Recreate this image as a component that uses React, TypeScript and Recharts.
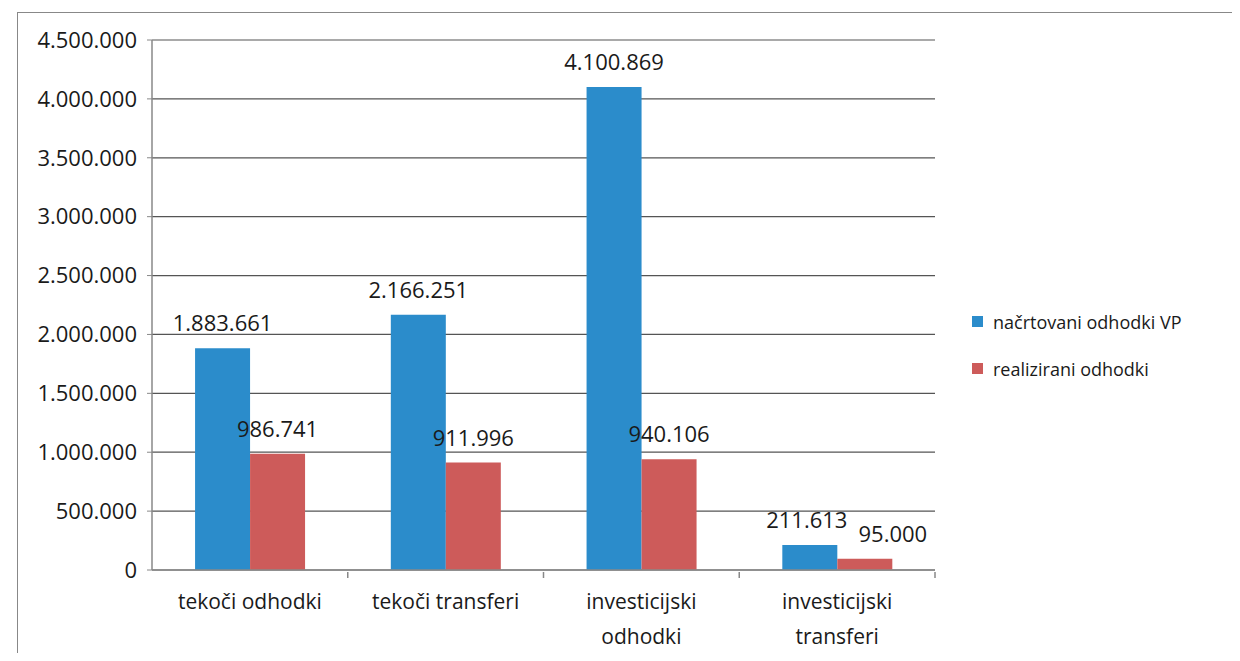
import { BarChart, Bar, XAxis, YAxis, CartesianGrid, LabelList } from "recharts";

const categories = ["tekoči odhodki", "tekoči transferi", "investicijski odhodki", "investicijski transferi"];
const planned = [1883661, 2166251, 4100869, 211613];
const realized = [986741, 911996, 940106, 95000];
const yTicks = [0, 500000, 1000000, 1500000, 2000000, 2500000, 3000000, 3500000, 4000000, 4500000];

const BLUE = "#2b8ccb";
const RED = "#cd5b5a";
const FONT = "'Open Sans', 'Noto Sans', sans-serif";
const TEXT = "#1a1a1a";

const CHART_W = 1224;
const PLOT_LEFT = 144;
const PLOT_RIGHT = 927;
const HALF_BAND = (PLOT_RIGHT - PLOT_LEFT) / categories.length / 2;

const data = categories.map((name, i) => ({
  name,
  planned: planned[i],
  realized: realized[i],
}));

const fmt = (v: number) => String(Math.round(v)).replace(/\B(?=(\d{3})+(?!\d))/g, ".");

const CategoryTick = (props: any) => {
  const { x, y, payload } = props;
  const words: string[] = payload.value.split(" ");
  // investicijski labels wrap onto two lines like in excel
  const lines = payload.value.startsWith("investicijski") ? words : [payload.value];
  return (
    <g>
      <line x1={x + HALF_BAND} x2={x + HALF_BAND} y1={y} y2={y + 6} stroke="#888" strokeWidth={1.5} />
      <text x={x} y={y} textAnchor="middle" fill={TEXT} fontSize={21} fontFamily={FONT}>
        {lines.map((l, i) => (
          <tspan key={i} x={x} dy={i === 0 ? 37 : 35}>
            {l}
          </tspan>
        ))}
      </text>
    </g>
  );
};

// value label above a bar; small neighbouring labels get nudged apart
const makeValueLabel = (nudge: number) => (props: any) => {
  const { x, y, width, value, index } = props;
  const dx = index === categories.length - 1 ? nudge : 0;
  return (
    <text
      x={x + width / 2 + dx}
      y={y - 17}
      textAnchor="middle"
      fill={TEXT}
      fontSize={22}
      fontFamily={FONT}
    >
      {fmt(Number(value))}
    </text>
  );
};

const legendItems = [
  { label: "načrtovani odhodki VP", color: BLUE },
  { label: "realizirani odhodki", color: RED },
];

export default function App() {
  return (
    <div style={{ position: "relative", width: CHART_W, height: 645, overflow: "hidden", background: "#fff" }}>
      <div
        style={{
          position: "absolute",
          left: 9,
          top: 4,
          width: 1230,
          height: 700,
          border: "1.5px solid #888",
          boxSizing: "border-box",
        }}
      />
      <BarChart
        width={CHART_W}
        height={653}
        data={data}
        margin={{ top: 32, right: CHART_W - PLOT_RIGHT, left: 0, bottom: 31 }}
        barCategoryGap="22%"
        barGap={0}
      >
        <CartesianGrid vertical={false} stroke="#555" strokeWidth={1.2} />
        <XAxis
          dataKey="name"
          height={60}
          interval={0}
          tick={<CategoryTick />}
          tickLine={false}
          tickSize={0}
          axisLine={{ stroke: "#888", strokeWidth: 1.5 }}
        />
        <YAxis
          width={PLOT_LEFT}
          domain={[0, 4500000]}
          ticks={yTicks}
          tickFormatter={fmt}
          tick={{ fill: TEXT, fontSize: 22, fontFamily: FONT }}
          tickLine={{ stroke: "#888" }}
          tickSize={5}
          tickMargin={10}
          axisLine={{ stroke: "#888", strokeWidth: 1.5 }}
        />
        <Bar dataKey="planned" name="načrtovani odhodki VP" fill={BLUE} isAnimationActive={false}>
          <LabelList dataKey="planned" content={makeValueLabel(-3)} />
        </Bar>
        <Bar dataKey="realized" name="realizirani odhodki" fill={RED} isAnimationActive={false}>
          <LabelList dataKey="realized" content={makeValueLabel(28)} />
        </Bar>
      </BarChart>
      <div style={{ position: "absolute", left: 964, top: 290, fontFamily: FONT, fontSize: 18, color: TEXT }}>
        {legendItems.map((item) => (
          <div key={item.label} style={{ display: "flex", alignItems: "center", height: 47 }}>
            <div style={{ width: 11, height: 11, background: item.color, marginRight: 10 }} />
            <span>{item.label}</span>
          </div>
        ))}
      </div>
    </div>
  );
}
